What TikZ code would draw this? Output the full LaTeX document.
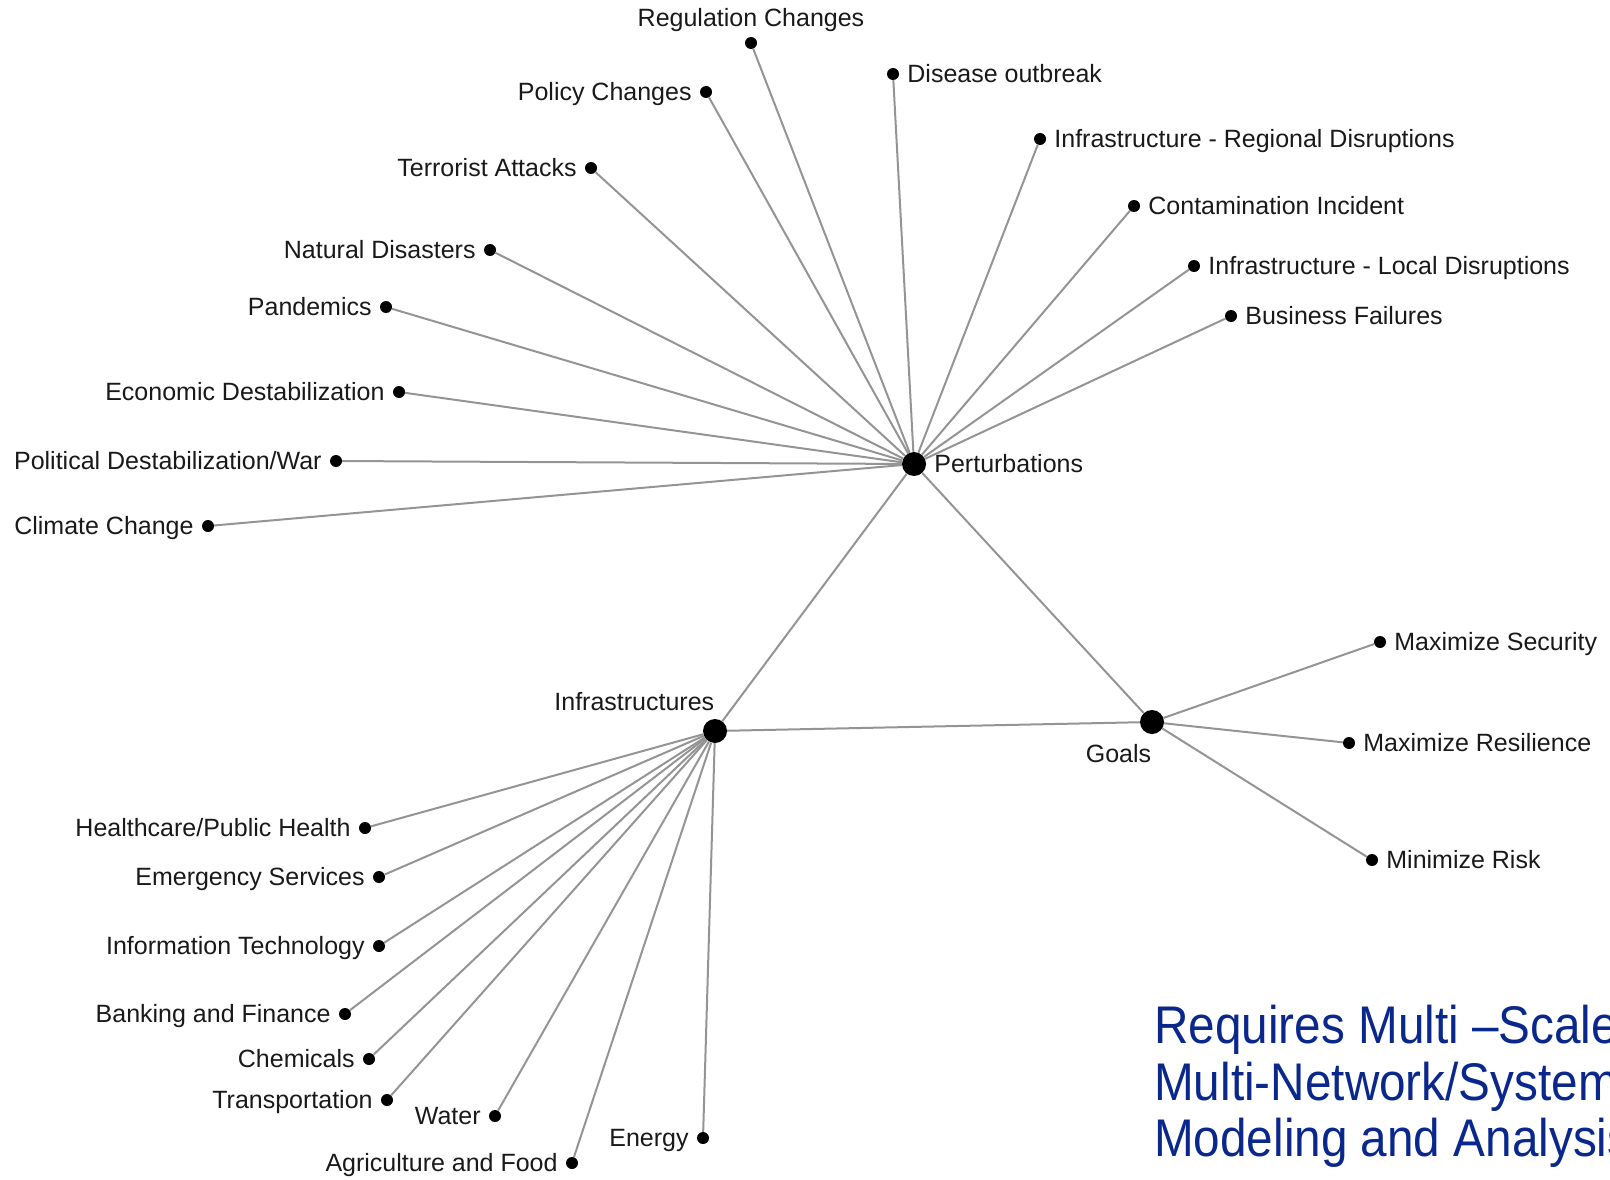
\documentclass[tikz,border=0pt]{standalone}
\usepackage{fontspec}
\setmainfont{Liberation Sans}
\newfontfamily\notefont[FakeStretch=0.9]{Liberation Sans}
\usepackage{xcolor}
\usepackage{tikz}
\usetikzlibrary{positioning}
\definecolor{noteblue}{RGB}{10,40,140}
\tikzset{
  hub/.style={circle, fill=black, minimum size=24pt, inner sep=0pt},
  leaf/.style={circle, fill=black, minimum size=12pt, inner sep=0pt},
  tag/.style={font=\fontsize{25}{30}\selectfont, text=black!90, inner sep=0pt, text height=20pt, text depth=3pt},
  link/.style={draw=black!42, line width=2pt}
}

\begin{document}
\begin{tikzpicture}[x=1pt, y=-1pt, node distance=8pt]
    \useasboundingbox (0,0) rectangle (1610,1180);

    % Hubs
    \node [hub] (pert) at (914,464) {};
    \node [hub] (infra) at (715,731) {};
    \node [hub] (goals) at (1152,722) {};
    \node [tag, right=8pt of pert] (pertT) {Perturbations};
    \node [tag, above left=9pt and -8pt of infra] (infraT) {Infrastructures};
    \node [tag, below left=12pt and -8pt of goals] (goalsT) {Goals};

    % Perturbations
    \node [leaf] (reg) at (751,43) {};
    \node [tag, above=7pt of reg] (regT) {Regulation Changes};
    \node [leaf] (pol) at (706,92) {};
    \node [tag, left=of pol] (polT) {Policy Changes};
    \node [leaf] (dis) at (893,74) {};
    \node [tag, right=of dis] (disT) {Disease outbreak};
    \node [leaf] (ter) at (591,168) {};
    \node [tag, left=of ter] (terT) {Terrorist Attacks};
    \node [leaf] (irg) at (1040,139) {};
    \node [tag, right=of irg] (irgT) {Infrastructure - Regional Disruptions};
    \node [leaf] (con) at (1134,206) {};
    \node [tag, right=of con] (conT) {Contamination Incident};
    \node [leaf] (nat) at (490,250) {};
    \node [tag, left=of nat] (natT) {Natural Disasters};
    \node [leaf] (ilc) at (1194,266) {};
    \node [tag, right=of ilc] (ilcT) {Infrastructure - Local Disruptions};
    \node [leaf] (pan) at (386,307) {};
    \node [tag, left=of pan] (panT) {Pandemics};
    \node [leaf] (bus) at (1231,316) {};
    \node [tag, right=of bus] (busT) {Business Failures};
    \node [leaf] (eco) at (399,392) {};
    \node [tag, left=of eco] (ecoT) {Economic Destabilization};
    \node [leaf] (war) at (336,461) {};
    \node [tag, left=of war] (warT) {Political Destabilization/War};
    \node [leaf] (cli) at (208,526) {};
    \node [tag, left=of cli] (cliT) {Climate Change};

    % Goals
    \node [leaf] (sec) at (1380,642) {};
    \node [tag, right=of sec] (secT) {Maximize Security};
    \node [leaf] (res) at (1349,743) {};
    \node [tag, right=of res] (resT) {Maximize Resilience};
    \node [leaf] (rsk) at (1372,860) {};
    \node [tag, right=of rsk] (rskT) {Minimize Risk};

    % Infrastructures
    \node [leaf] (hlt) at (365,828) {};
    \node [tag, left=of hlt] (hltT) {Healthcare/Public Health};
    \node [leaf] (emg) at (379,877) {};
    \node [tag, left=of emg] (emgT) {Emergency Services};
    \node [leaf] (itc) at (379,946) {};
    \node [tag, left=of itc] (itcT) {Information Technology};
    \node [leaf] (bnk) at (345,1014) {};
    \node [tag, left=of bnk] (bnkT) {Banking and Finance};
    \node [leaf] (chm) at (369,1059) {};
    \node [tag, left=of chm] (chmT) {Chemicals};
    \node [leaf] (trn) at (387,1100) {};
    \node [tag, left=of trn] (trnT) {Transportation};
    \node [leaf] (wat) at (495,1116) {};
    \node [tag, left=of wat] (watT) {Water};
    \node [leaf] (agr) at (572,1163) {};
    \node [tag, left=of agr] (agrT) {Agriculture and Food};
    \node [leaf] (nrg) at (703,1138) {};
    \node [tag, left=of nrg] (nrgT) {Energy};

    % Links
    \draw [link] (pert) -- (infra);
    \draw [link] (pert) -- (goals);
    \draw [link] (infra) -- (goals);
    \draw [link] (pert) -- (reg);
    \draw [link] (pert) -- (pol);
    \draw [link] (pert) -- (dis);
    \draw [link] (pert) -- (ter);
    \draw [link] (pert) -- (irg);
    \draw [link] (pert) -- (con);
    \draw [link] (pert) -- (nat);
    \draw [link] (pert) -- (ilc);
    \draw [link] (pert) -- (pan);
    \draw [link] (pert) -- (bus);
    \draw [link] (pert) -- (eco);
    \draw [link] (pert) -- (war);
    \draw [link] (pert) -- (cli);
    \draw [link] (goals) -- (sec);
    \draw [link] (goals) -- (res);
    \draw [link] (goals) -- (rsk);
    \draw [link] (infra) -- (hlt);
    \draw [link] (infra) -- (emg);
    \draw [link] (infra) -- (itc);
    \draw [link] (infra) -- (bnk);
    \draw [link] (infra) -- (chm);
    \draw [link] (infra) -- (trn);
    \draw [link] (infra) -- (wat);
    \draw [link] (infra) -- (agr);
    \draw [link] (infra) -- (nrg);

    % Note
    \node [anchor=north west, inner sep=0pt, align=left, text=noteblue,
           font=\notefont\fontsize{53}{56.5}\selectfont] (note) at (1154,1005)
          {Requires Multi –Scale\\Multi-Network/System\\Modeling and Analysis};
\end{tikzpicture}
\end{document}
